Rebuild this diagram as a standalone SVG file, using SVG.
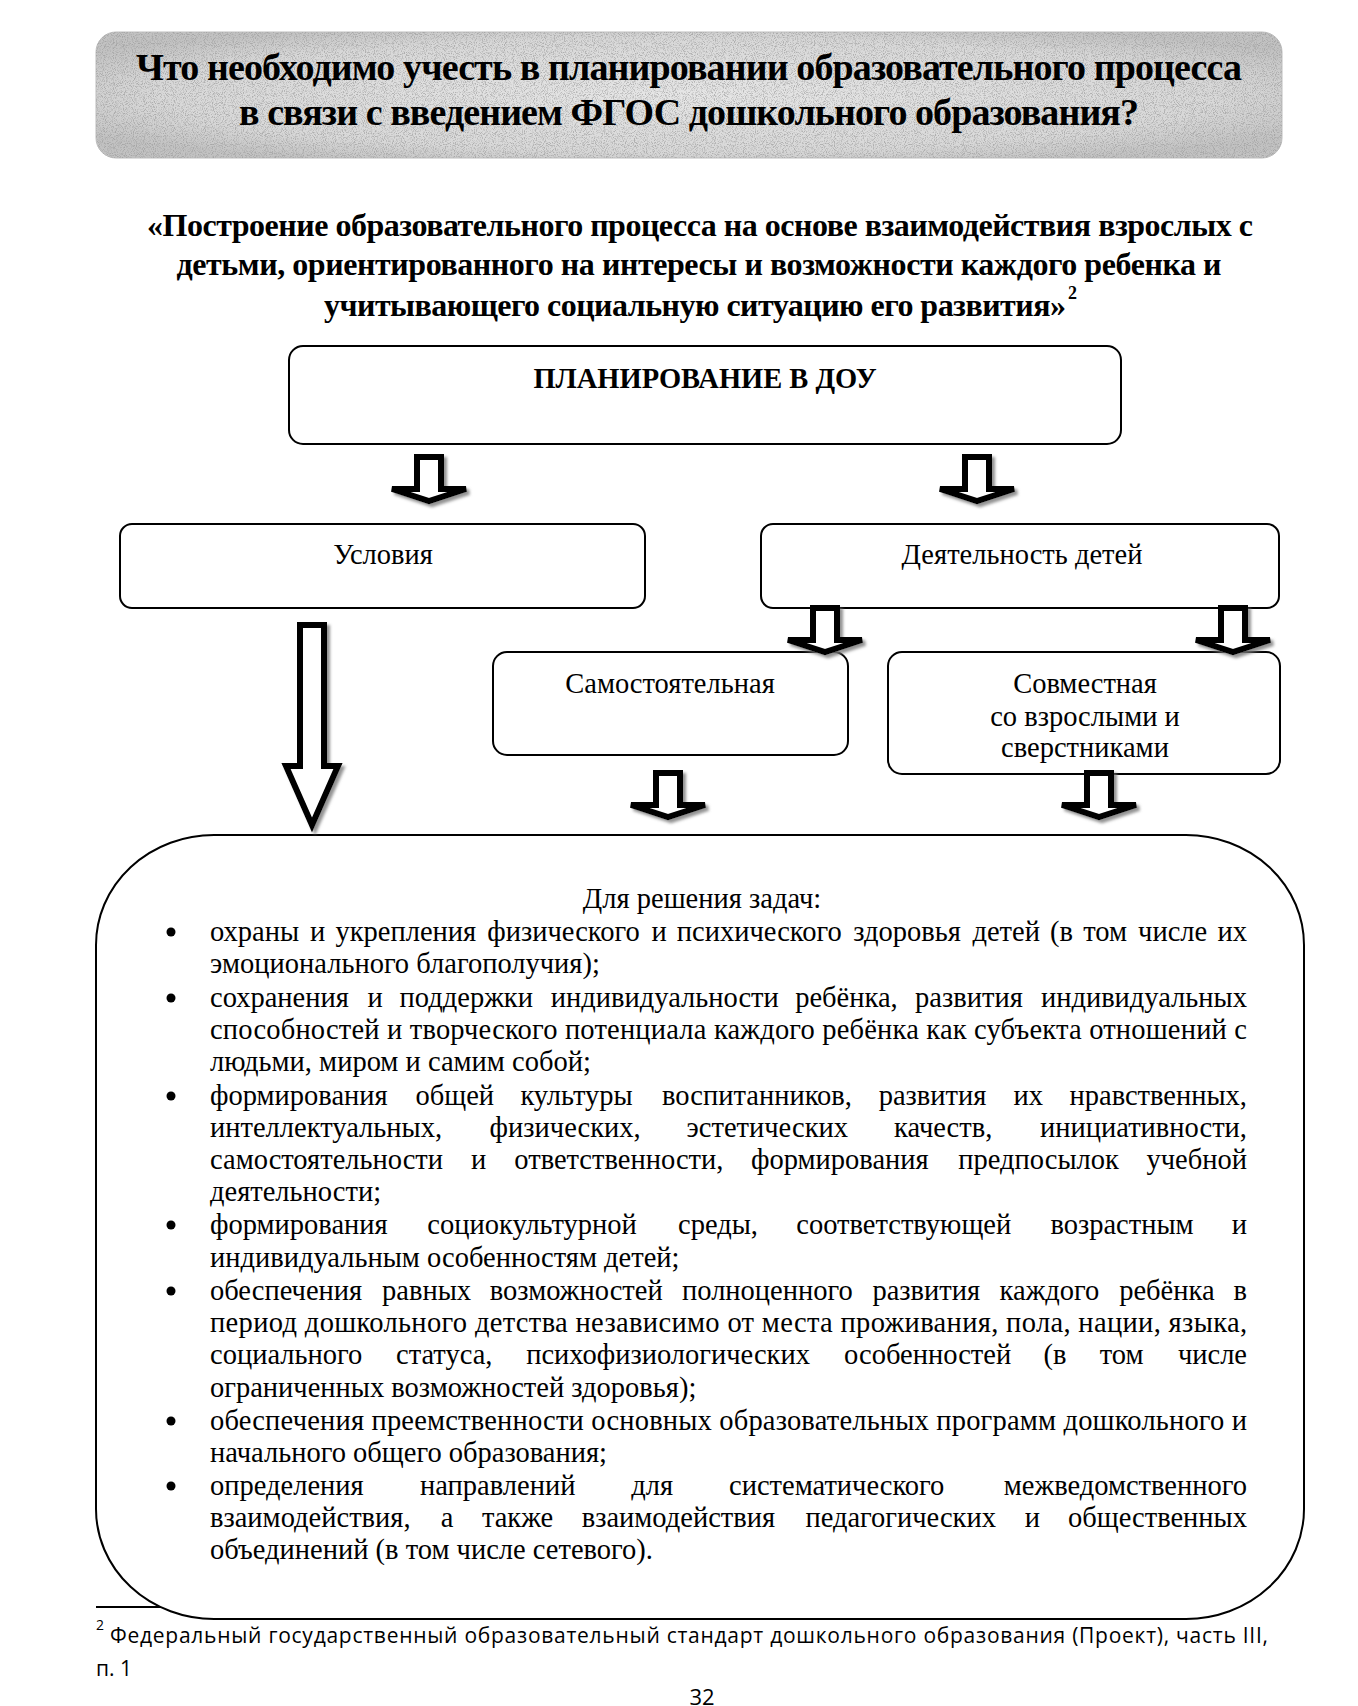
<svg xmlns="http://www.w3.org/2000/svg" width="1358" height="1706" viewBox="0 0 1358 1706">
<defs>
<style>
.t{font-family:"Liberation Serif","Times New Roman",serif;fill:#000}
.b{font-weight:bold}
.body{font-size:28.5px}
.m{text-anchor:middle}
.e{text-anchor:end}
.box{fill:#fff;stroke:#000;stroke-width:2}
.arrow{fill:#fff;stroke:#000;stroke-width:6;stroke-linejoin:miter;filter:url(#shadow)}
.sans{font-family:"Open Sans","Noto Sans","Liberation Sans",sans-serif;fill:#000}
</style>
<radialGradient id="bannerGrad" cx="50%" cy="50%" r="60%">
<stop offset="0" stop-color="#e6e6e6"/>
<stop offset="0.75" stop-color="#d8d8d8"/>
<stop offset="1" stop-color="#c2c2c2"/>
</radialGradient>
<filter id="grain" x="0" y="0" width="100%" height="100%">
<feTurbulence type="fractalNoise" baseFrequency="1.1" numOctaves="1" seed="3" result="n"/>
<feColorMatrix in="n" type="matrix" values="0 0 0 0 0.3  0 0 0 0 0.3  0 0 0 0 0.3  4 0 0 0 -1.85" result="g"/>
<feComposite in="g" in2="SourceGraphic" operator="in"/>
</filter>
<filter id="shadow" x="-40%" y="-20%" width="180%" height="150%">
<feDropShadow dx="3" dy="3" stdDeviation="1.5" flood-color="#777" flood-opacity="0.8"/>
</filter>
<path id="arShort" d="M-12,3 H12 V35 H37 L0,47 L-37,35 H-12 Z"/>
</defs>
<rect width="1358" height="1706" fill="#fff"/>

<g id="title">
<rect x="96" y="32" width="1186" height="126" rx="20" fill="url(#bannerGrad)" stroke="#bdbdbd" stroke-width="1"/>
<rect x="96" y="32" width="1186" height="126" rx="20" fill="#000" filter="url(#grain)" opacity="0.6"/>
<text class="t b m" x="689" y="80" font-size="38" textLength="1106">Что необходимо учесть в планировании образовательного процесса</text>
<text class="t b m" x="689" y="125" font-size="38" textLength="900">в связи с введением ФГОС дошкольного образования?</text>
</g>

<g id="quote">
<text class="t b m" x="700" y="236" font-size="32" textLength="1106">«Построение образовательного процесса на основе взаимодействия взрослых с</text>
<text class="t b m" x="699" y="275" font-size="32" textLength="1045">детьми, ориентированного на интересы и возможности каждого ребенка и</text>
<text class="t b" x="324" y="316" font-size="32" textLength="742">учитывающего социальную ситуацию его развития»</text>
<text class="t b" x="1068" y="299" font-size="18">2</text>
</g>

<g id="plan">
<rect class="box" x="289" y="346" width="832" height="98" rx="14"/>
<text class="t b m" x="705" y="388" font-size="28.5">ПЛАНИРОВАНИЕ В ДОУ</text>
</g>

<g id="usloviya">
<rect class="box" x="120" y="524" width="525" height="84" rx="12"/>
<text class="t m body" x="383" y="564">Условия</text>
</g>

<g id="deyatelnost">
<rect class="box" x="761" y="524" width="518" height="84" rx="12"/>
<text class="t m body" x="1022" y="564">Деятельность детей</text>
</g>

<g id="samostoyatelnaya">
<rect class="box" x="493" y="652" width="355" height="103" rx="14"/>
<text class="t m body" x="670" y="693">Самостоятельная</text>
</g>

<g id="sovmestnaya">
<rect class="box" x="888" y="652" width="392" height="122" rx="14"/>
<text class="t m body" x="1085" y="693">Совместная</text>
<text class="t m body" x="1085" y="726">со взрослыми и</text>
<text class="t m body" x="1085" y="757">сверстниками</text>
</g>

<g id="footnote">
<line x1="96" y1="1607" x2="172" y2="1607" stroke="#000" stroke-width="2"/>
<text class="sans" x="96" y="1630" font-size="14">2</text>
<text class="sans" x="110" y="1643" font-size="21" textLength="1158">Федеральный государственный образовательный стандарт дошкольного образования (Проект), часть III,</text>
<text class="sans" x="96" y="1676" font-size="21">п. 1</text>
<text class="sans m" x="702" y="1705" font-size="22">32</text>
</g>

<g id="tasks">
<rect class="box" x="96" y="835" width="1208" height="784" rx="118" ry="110"/>
<text class="t m body" x="702" y="908">Для решения задач:</text>
<g fill="#000">
<circle cx="171" cy="932" r="4.5"/>
<circle cx="171" cy="998" r="4.5"/>
<circle cx="171" cy="1096" r="4.5"/>
<circle cx="171" cy="1225" r="4.5"/>
<circle cx="171" cy="1291" r="4.5"/>
<circle cx="171" cy="1421" r="4.5"/>
<circle cx="171" cy="1486" r="4.5"/>
</g>
<text class="t body" y="941"><tspan x="210">охраны</tspan><tspan x="310">и</tspan><tspan x="335.5">укрепления</tspan><tspan x="487.3">физического</tspan><tspan x="651.4">и</tspan><tspan x="676.8">психического</tspan><tspan x="853.3">здоровья</tspan><tspan x="972.4">детей</tspan><tspan x="1050.1">(в</tspan><tspan x="1083.2">том</tspan><tspan x="1138.1">числе</tspan></text>
<text class="t body e" x="1247" y="941">их</text>
<text class="t body" x="210" y="973">эмоционального благополучия);</text>
<text class="t body" y="1007"><tspan x="210">сохранения</tspan><tspan x="367.4">и</tspan><tspan x="399.6">поддержки</tspan><tspan x="550.8">индивидуальности</tspan><tspan x="795.2">ребёнка,</tspan><tspan x="915.1">развития</tspan></text>
<text class="t body e" x="1247" y="1007">индивидуальных</text>
<text class="t body" x="210" y="1039" textLength="1037" lengthAdjust="spacing">способностей и творческого потенциала каждого ребёнка как субъекта отношений с</text>
<text class="t body" x="210" y="1071">людьми, миром и самим собой;</text>
<text class="t body" y="1105"><tspan x="210">формирования</tspan><tspan x="415.5">общей</tspan><tspan x="520.4">культуры</tspan><tspan x="662.1">воспитанников,</tspan><tspan x="878.7">развития</tspan><tspan x="1013.5">их</tspan></text>
<text class="t body e" x="1247" y="1105">нравственных,</text>
<text class="t body" y="1137"><tspan x="210">интеллектуальных,</tspan><tspan x="489.6">физических,</tspan><tspan x="686.6">эстетических</tspan><tspan x="894">качеств,</tspan></text>
<text class="t body e" x="1247" y="1137">инициативности,</text>
<text class="t body" y="1169"><tspan x="210">самостоятельности</tspan><tspan x="471.1">и</tspan><tspan x="514.3">ответственности,</tspan><tspan x="751">формирования</tspan><tspan x="958.3">предпосылок</tspan></text>
<text class="t body e" x="1247" y="1169">учебной</text>
<text class="t body" x="210" y="1201">деятельности;</text>
<text class="t body" y="1234"><tspan x="210">формирования</tspan><tspan x="427.3">социокультурной</tspan><tspan x="678">среды,</tspan><tspan x="796.3">соответствующей</tspan><tspan x="1050.4">возрастным</tspan></text>
<text class="t body e" x="1247" y="1234">и</text>
<text class="t body" x="210" y="1267">индивидуальным особенностям детей;</text>
<text class="t body" y="1300"><tspan x="210">обеспечения</tspan><tspan x="382.1">равных</tspan><tspan x="489.8">возможностей</tspan><tspan x="682">полноценного</tspan><tspan x="872.4">развития</tspan><tspan x="999.6">каждого</tspan><tspan x="1119.2">ребёнка</tspan></text>
<text class="t body e" x="1247" y="1300">в</text>
<text class="t body" x="210" y="1332" textLength="1037" lengthAdjust="spacing">период дошкольного детства независимо от места проживания, пола, нации, языка,</text>
<text class="t body" y="1364"><tspan x="210">социального</tspan><tspan x="396">статуса,</tspan><tspan x="526.2">психофизиологических</tspan><tspan x="844.1">особенностей</tspan><tspan x="1043.5">(в</tspan><tspan x="1099.7">том</tspan></text>
<text class="t body e" x="1247" y="1364">числе</text>
<text class="t body" x="210" y="1397">ограниченных возможностей здоровья);</text>
<text class="t body" x="210" y="1430" textLength="1037" lengthAdjust="spacing">обеспечения преемственности основных образовательных программ дошкольного и</text>
<text class="t body" x="210" y="1462">начального общего образования;</text>
<text class="t body" y="1495"><tspan x="210">определения</tspan><tspan x="420">направлений</tspan><tspan x="631.2">для</tspan><tspan x="729">систематического</tspan></text>
<text class="t body e" x="1247" y="1495">межведомственного</text>
<text class="t body" y="1527"><tspan x="210">взаимодействия,</tspan><tspan x="440.7">а</tspan><tspan x="481.9">также</tspan><tspan x="581.7">взаимодействия</tspan><tspan x="805.4">педагогических</tspan><tspan x="1024.8">и</tspan></text>
<text class="t body e" x="1247" y="1527">общественных</text>
<text class="t body" x="210" y="1559">объединений (в том числе сетевого).</text>
</g>

<g id="connectors">
<use href="#arShort" class="arrow" transform="translate(429,454)"/>
<use href="#arShort" class="arrow" transform="translate(977,454)"/>
<path class="arrow" d="M-12,3 H12 V144 H26 L0,203 L-26,144 H-12 Z" transform="translate(312,622)"/>
<use href="#arShort" class="arrow" transform="translate(825,605)"/>
<use href="#arShort" class="arrow" transform="translate(1233,605)"/>
<use href="#arShort" class="arrow" transform="translate(668,770)"/>
<use href="#arShort" class="arrow" transform="translate(1099,770)"/>
</g>
</svg>
